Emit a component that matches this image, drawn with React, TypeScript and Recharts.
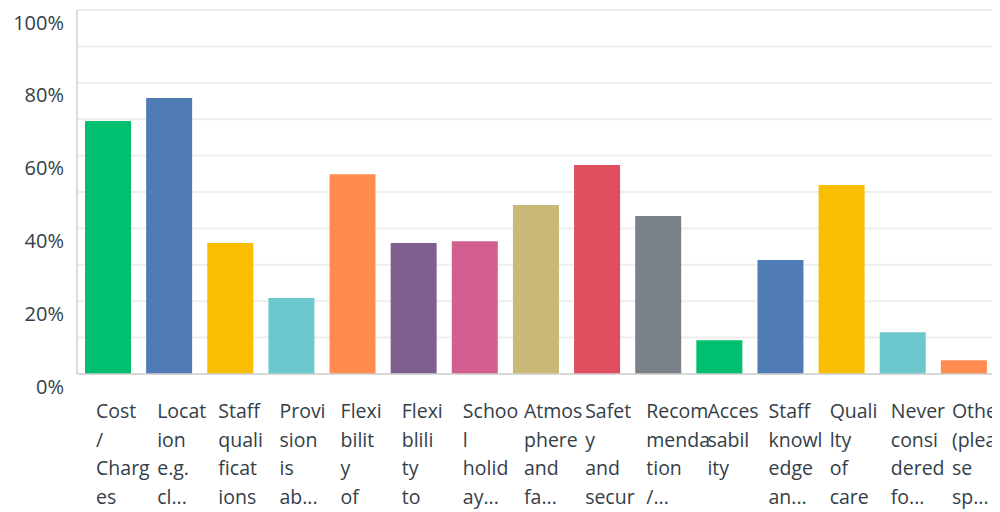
import React from "react";
import { BarChart, Bar, XAxis, YAxis, CartesianGrid, Cell } from "recharts";

const categories = [
  "Cost / Charges",
  "Location e.g. close to home",
  "Staff qualifications",
  "Provision is able to meet needs",
  "Flexibility of hours",
  "Flexiblility to change days",
  "School holiday provision",
  "Atmosphere and facilities",
  "Safety and security",
  "Recommendation / reputation",
  "Accessability",
  "Staff knowledge and experience",
  "Qualilty of care",
  "Never considered formal childcare",
  "Other (please specify)",
];

const values = [69.5, 75.8, 36.0, 20.9, 54.9, 36.0, 36.5, 46.4, 57.4, 43.4, 9.3, 31.3, 51.9, 11.5, 3.8];

const tickLines: string[][] = [
  ["Cost", "/", "Charg", "es"],
  ["Locat", "ion", "e.g.", "cl..."],
  ["Staff", "quali", "ficat", "ions"],
  ["Provi", "sion", "is", "ab..."],
  ["Flexi", "bilit", "y", "of"],
  ["Flexi", "blili", "ty", "to"],
  ["Schoo", "l", "holid", "ay..."],
  ["Atmos", "phere", "and", "fa..."],
  ["Safet", "y", "and", "secur"],
  ["Recom", "menda", "tion", "/..."],
  ["Acces", "sabil", "ity"],
  ["Staff", "knowl", "edge", "an..."],
  ["Quali", "lty", "of", "care"],
  ["Never", "consi", "dered", "fo..."],
  ["Other", "(plea", "se", "sp..."],
];

const colors = [
  "#00BF6F", "#507CB6", "#F9BE00", "#6BC8CD", "#FF8B4F",
  "#7F5F90", "#D25F90", "#C9B877", "#DE4E5F", "#7A8189",
  "#00BF6F", "#507CB6", "#F9BE00", "#6BC8CD", "#FF8B4F",
];

const yTicks = [0, 10, 20, 30, 40, 50, 60, 70, 80, 90, 100];

const data = categories.map((name, i) => ({ name, value: values[i], idx: i }));

const FONT = "'Open Sans', 'Noto Sans', sans-serif";
const TEXT = "#333E48";

const XTick = (props: any) => {
  const { x, payload } = props;
  const lines = tickLines[payload.index] || [String(payload.value)];
  return (
    <text
      x={x - 11.5}
      y={410}
      textAnchor="start"
      fill={TEXT}
      fontFamily={FONT}
      fontSize={19.5}
    >
      {lines.map((l, i) => (
        <tspan key={i} x={x - 11.5} dy={i === 0 ? 0 : 28.5}>
          {l}
        </tspan>
      ))}
    </text>
  );
};

const YTick = (props: any) => {
  const { y, payload } = props;
  if (payload.value % 20 !== 0) return null;
  return (
    <text x={56} y={y + 19.5} textAnchor="end" fill={TEXT} fontFamily={FONT} fontSize={20}>
      {`${payload.value}%`}
    </text>
  );
};

export default function App() {
  return (
    <div style={{ width: 992, height: 504 }}>
      <BarChart
        width={992}
        height={504}
        data={data}
        margin={{ top: 2, right: 6, bottom: 8, left: 0 }}
      >
        <CartesianGrid vertical={false} stroke="#EEEEEE" strokeWidth={2} />
        <XAxis
          dataKey="name"
          interval={0}
          height={130}
          tickLine={false}
          axisLine={{ stroke: "#D0D0D0", strokeWidth: 1.5 }}
          tick={<XTick />}
        />
        <YAxis
          width={69}
          domain={[0, 100]}
          ticks={yTicks}
          interval={0}
          tickLine={false}
          axisLine={{ stroke: "#D0D0D0", strokeWidth: 1.5 }}
          tick={<YTick />}
        />
        <Bar dataKey="value" barSize={46} isAnimationActive={false}>
          {data.map((d, i) => (
            <Cell key={i} fill={colors[i]} />
          ))}
        </Bar>
      </BarChart>
    </div>
  );
}
